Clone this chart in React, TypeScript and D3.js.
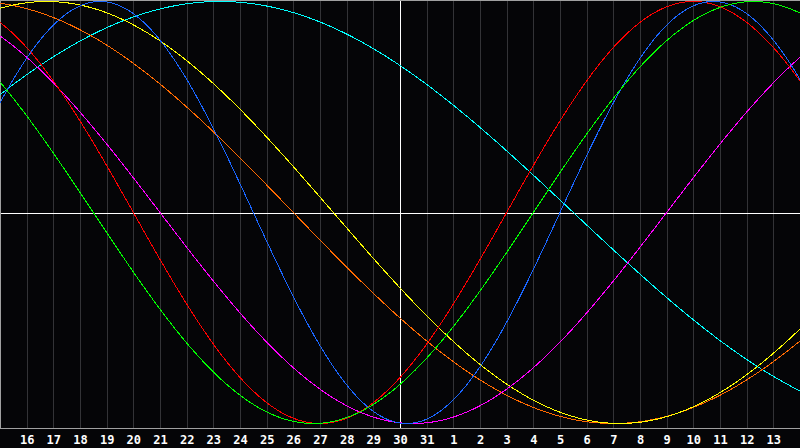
import React, { useEffect, useRef } from 'react';
import * as d3 from 'd3';

// day labels under the grid lines (index 1..29), today = 30 at index 15
const dayLabels = ['16', '17', '18', '19', '20', '21', '22', '23', '24', '25', '26', '27', '28', '29', '30', '31',
  '1', '2', '3', '4', '5', '6', '7', '8', '9', '10', '11', '12', '13'];
const todayIndex = 15;
const daysShown = 30;

// days alive at the left edge of the chart
const daysAliveAtStart = 30109;

// cycles
const cycleNames = ['Physical', 'Emotional', 'Intellectual', 'Intuitive', 'Aesthetic', 'Awareness', 'Spiritual'];
const cyclePeriods = [23, 28, 33, 38, 43, 48, 53];
const cycleColors = ['#1a66ff', '#ff0000', '#00ff00', '#ff00ff', '#ffff00', '#ff6a00', '#00ffff'];
const drawOrder = [6, 5, 4, 3, 1, 0, 2];

const W = 800;
const H = 448;

const App: React.FC = () => {
  const svgRef = useRef<SVGSVGElement>(null);

  useEffect(() => {
    if (!svgRef.current) return;
    const svg = d3.select(svgRef.current);
    svg.selectAll('*').remove();

    const plotBottom = 428;

    const x = d3.scaleLinear().domain([0, daysShown]).range([0, W]);
    const y = d3.scaleLinear().domain([-1, 1]).range([423.5, 1.5]);

    svg.append('rect').attr('width', W).attr('height', H).attr('fill', '#050507');

    // day grid
    svg.append('g')
      .selectAll('line')
      .data(dayLabels.map((_, i) => i + 1))
      .enter()
      .append('line')
      .attr('x1', d => Math.round(x(d)) + 0.5)
      .attr('x2', d => Math.round(x(d)) + 0.5)
      .attr('y1', 0)
      .attr('y2', plotBottom)
      .attr('stroke', d => (d === todayIndex ? '#ffffff' : '#333336'))
      .attr('stroke-width', 1)
      .style('shape-rendering', 'crispEdges');

    // zero line
    svg.append('line')
      .attr('x1', 0).attr('x2', W)
      .attr('y1', Math.round(y(0)) + 0.5).attr('y2', Math.round(y(0)) + 0.5)
      .attr('stroke', '#ffffff')
      .style('shape-rendering', 'crispEdges');

    // frame
    const frame = svg.append('g').attr('stroke', '#a0a0a0').style('shape-rendering', 'crispEdges');
    frame.append('line').attr('x1', 0).attr('x2', W).attr('y1', 0.5).attr('y2', 0.5);
    frame.append('line').attr('x1', 0.5).attr('x2', 0.5).attr('y1', 0).attr('y2', plotBottom);
    frame.append('line').attr('x1', 0).attr('x2', W).attr('y1', plotBottom + 0.5).attr('y2', plotBottom + 0.5);

    // curves
    const samples = d3.range(0, daysShown + 0.001, 0.05);
    const line = d3.line<number>()
      .x(t => x(t))
      .y(t => 0)
      .curve(d3.curveLinear);

    const curves = svg.append('g').style('shape-rendering', 'crispEdges');
    drawOrder.forEach(ci => {
      const p = cyclePeriods[ci];
      const gen = line.y(t => y(Math.sin((2 * Math.PI * (daysAliveAtStart + t)) / p)));
      curves.append('path')
        .attr('d', gen(samples))
        .attr('fill', 'none')
        .attr('stroke', cycleColors[ci])
        .attr('stroke-width', 1)
        .attr('data-name', cycleNames[ci]);
    });

    // day labels
    svg.append('g')
      .selectAll('text')
      .data(dayLabels)
      .enter()
      .append('text')
      .attr('x', (_, i) => x(i + 1) + 0.5)
      .attr('y', 444)
      .attr('text-anchor', 'middle')
      .style('font-family', '"DejaVu Sans Mono", monospace')
      .style('font-size', '12px')
      .style('font-weight', '700')
      .style('fill', '#ffffff')
      .text(d => d);
  }, []);

  return (
    <div style={{ position: 'absolute', left: 0, top: 0, width: W, height: H }}>
      <svg ref={svgRef} width={W} height={H} viewBox={`0 0 ${W} ${H}`} style={{ display: 'block' }} />
    </div>
  );
};

export default App;
